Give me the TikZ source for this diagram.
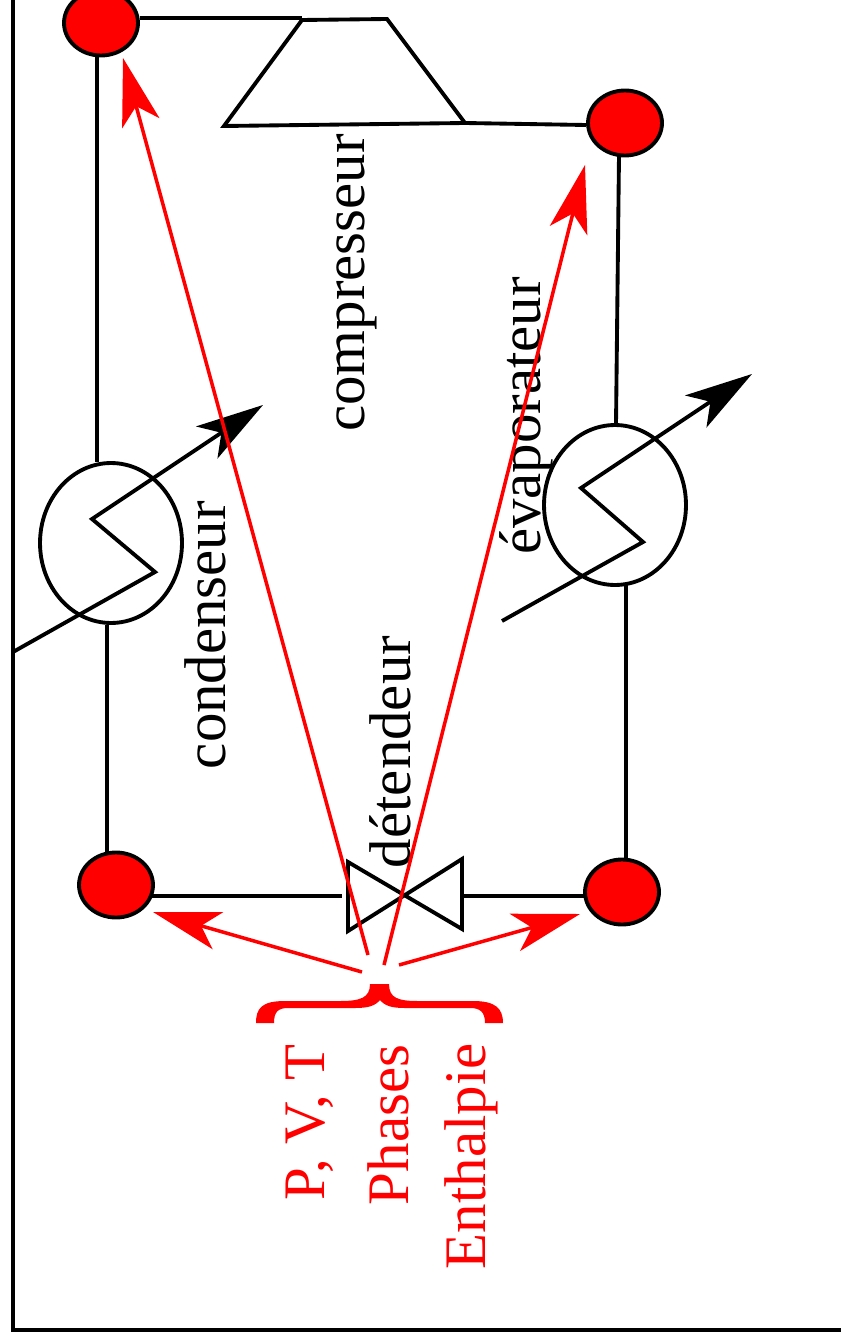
\documentclass[tikz,border=0pt]{standalone}
\usepackage{fontspec}
\setmainfont{Liberation Serif}
\usetikzlibrary{shapes.geometric, arrows.meta}

\begin{document}
\begin{tikzpicture}[x=0.02cm, y=-0.02cm, line width=2.2pt, >={Stealth[length=1.35cm, width=0.77cm, inset=0.35cm]}]

\tikzstyle{state_point} = [ellipse, draw=black, fill=red, minimum width=1.48cm, minimum height=1.3cm, inner sep=0pt]
\tikzstyle{exchanger} = [ellipse, draw=black, minimum width=2.84cm, minimum height=3.2cm, inner sep=0pt]
\tikzstyle{component} = [rotate=90, font=\fontsize{33.5}{40}\selectfont, inner sep=0pt]
\tikzstyle{property} = [component, text=red, anchor=west]
\tikzstyle{red_flow} = [->, draw=red, line width=2pt]
\tikzstyle{heat_flow} = [->, draw=black]

\useasboundingbox (0,0) rectangle (841,1341);

\draw [line width=2.4pt] (13,0) -- (13,1330) -- (841,1330);

\node (P1) [state_point] at (101,23) {};
\node (P2) [state_point] at (625,123) {};
\node (P3) [state_point] at (116,885) {};
\node (P4) [state_point] at (622,892) {};
\node (COND) [exchanger] at (111,543) {};
\node (EVAP) [exchanger] at (615,505) {};

% compressor
\coordinate (CA) at (224,126);
\coordinate (CB) at (302,20);
\coordinate (CC) at (387,19);
\coordinate (CD) at (465,123);
\draw (CA) -- (CB) -- (CC) -- (CD) -- cycle;

% valve
\coordinate (VA) at (348,862);
\coordinate (VB) at (348,931);
\coordinate (VC) at (462,859);
\coordinate (VD) at (462,929);
\draw (VA) -- (VD) -- (VC) -- (VB) -- cycle;

% circuit
\draw (P1.east |- 0,18) -- (302,18);
\draw (P2.west |- 0,125) -- (CD);
\draw (97,55) -- (97,462);
\draw (107,625) -- (107,855);
\draw (150,896) -- (342,896);
\draw (VC |- 0,896) -- (585,896);
\draw (626,585) -- (626,860);
\draw (616,424) -- (619,155);

% heat flows
\coordinate (H1) at (13,652);
\coordinate (H2) at (263,405);
\coordinate (H3) at (502,621);
\coordinate (H4) at (752,374);
\draw [heat_flow] (H1) -- (155,572) -- (92,519) -- (H2);
\draw [heat_flow] (H3) -- (643,542) -- (581,488) -- (H4);

% labels
\node (compresseur) [component] at (357,283) {compresseur};
\node (condenseur) [component] at (205,635) {condenseur};
\node (detendeur) [component] at (390,752) {détendeur};
\node (evaporateur) [component] at (526,416) {évaporateur};

\node (pvt) [property] at (310,1202) {P, V, T};
\node (phases) [property] at (388,1207) {Phases};
\node (enthalpie) [property] at (471,1271) {Enthalpie};

% properties
\fill [red] (256,1023) .. controls (256,1008) and (262,1001) .. (285,1001)
  -- (340,1001) .. controls (360,1001) and (370,998) .. (370,984)
  -- (389,984) .. controls (389,998) and (398,1001) .. (418,1001)
  -- (473,1001) .. controls (495,1001) and (503,1008) .. (503,1023)
  -- (485,1023) .. controls (485,1012) and (480,1008) .. (470,1008)
  -- (405,1008) .. controls (392,1008) and (385,1006) .. (380,1000)
  .. controls (375,1006) and (368,1008) .. (355,1008)
  -- (288,1008) .. controls (278,1008) and (274,1012) .. (274,1023) -- cycle;

\coordinate (R1) at (368,955);
\coordinate (R2) at (384,965);
\coordinate (R3) at (362,972);
\coordinate (R4) at (399,965);
\draw [red_flow] (R1) -- (123,58);
\draw [red_flow] (R2) -- (585,165);
\draw [red_flow] (R3) -- (153,912);
\draw [red_flow] (R4) -- (580,914);

\end{tikzpicture}
\end{document}
